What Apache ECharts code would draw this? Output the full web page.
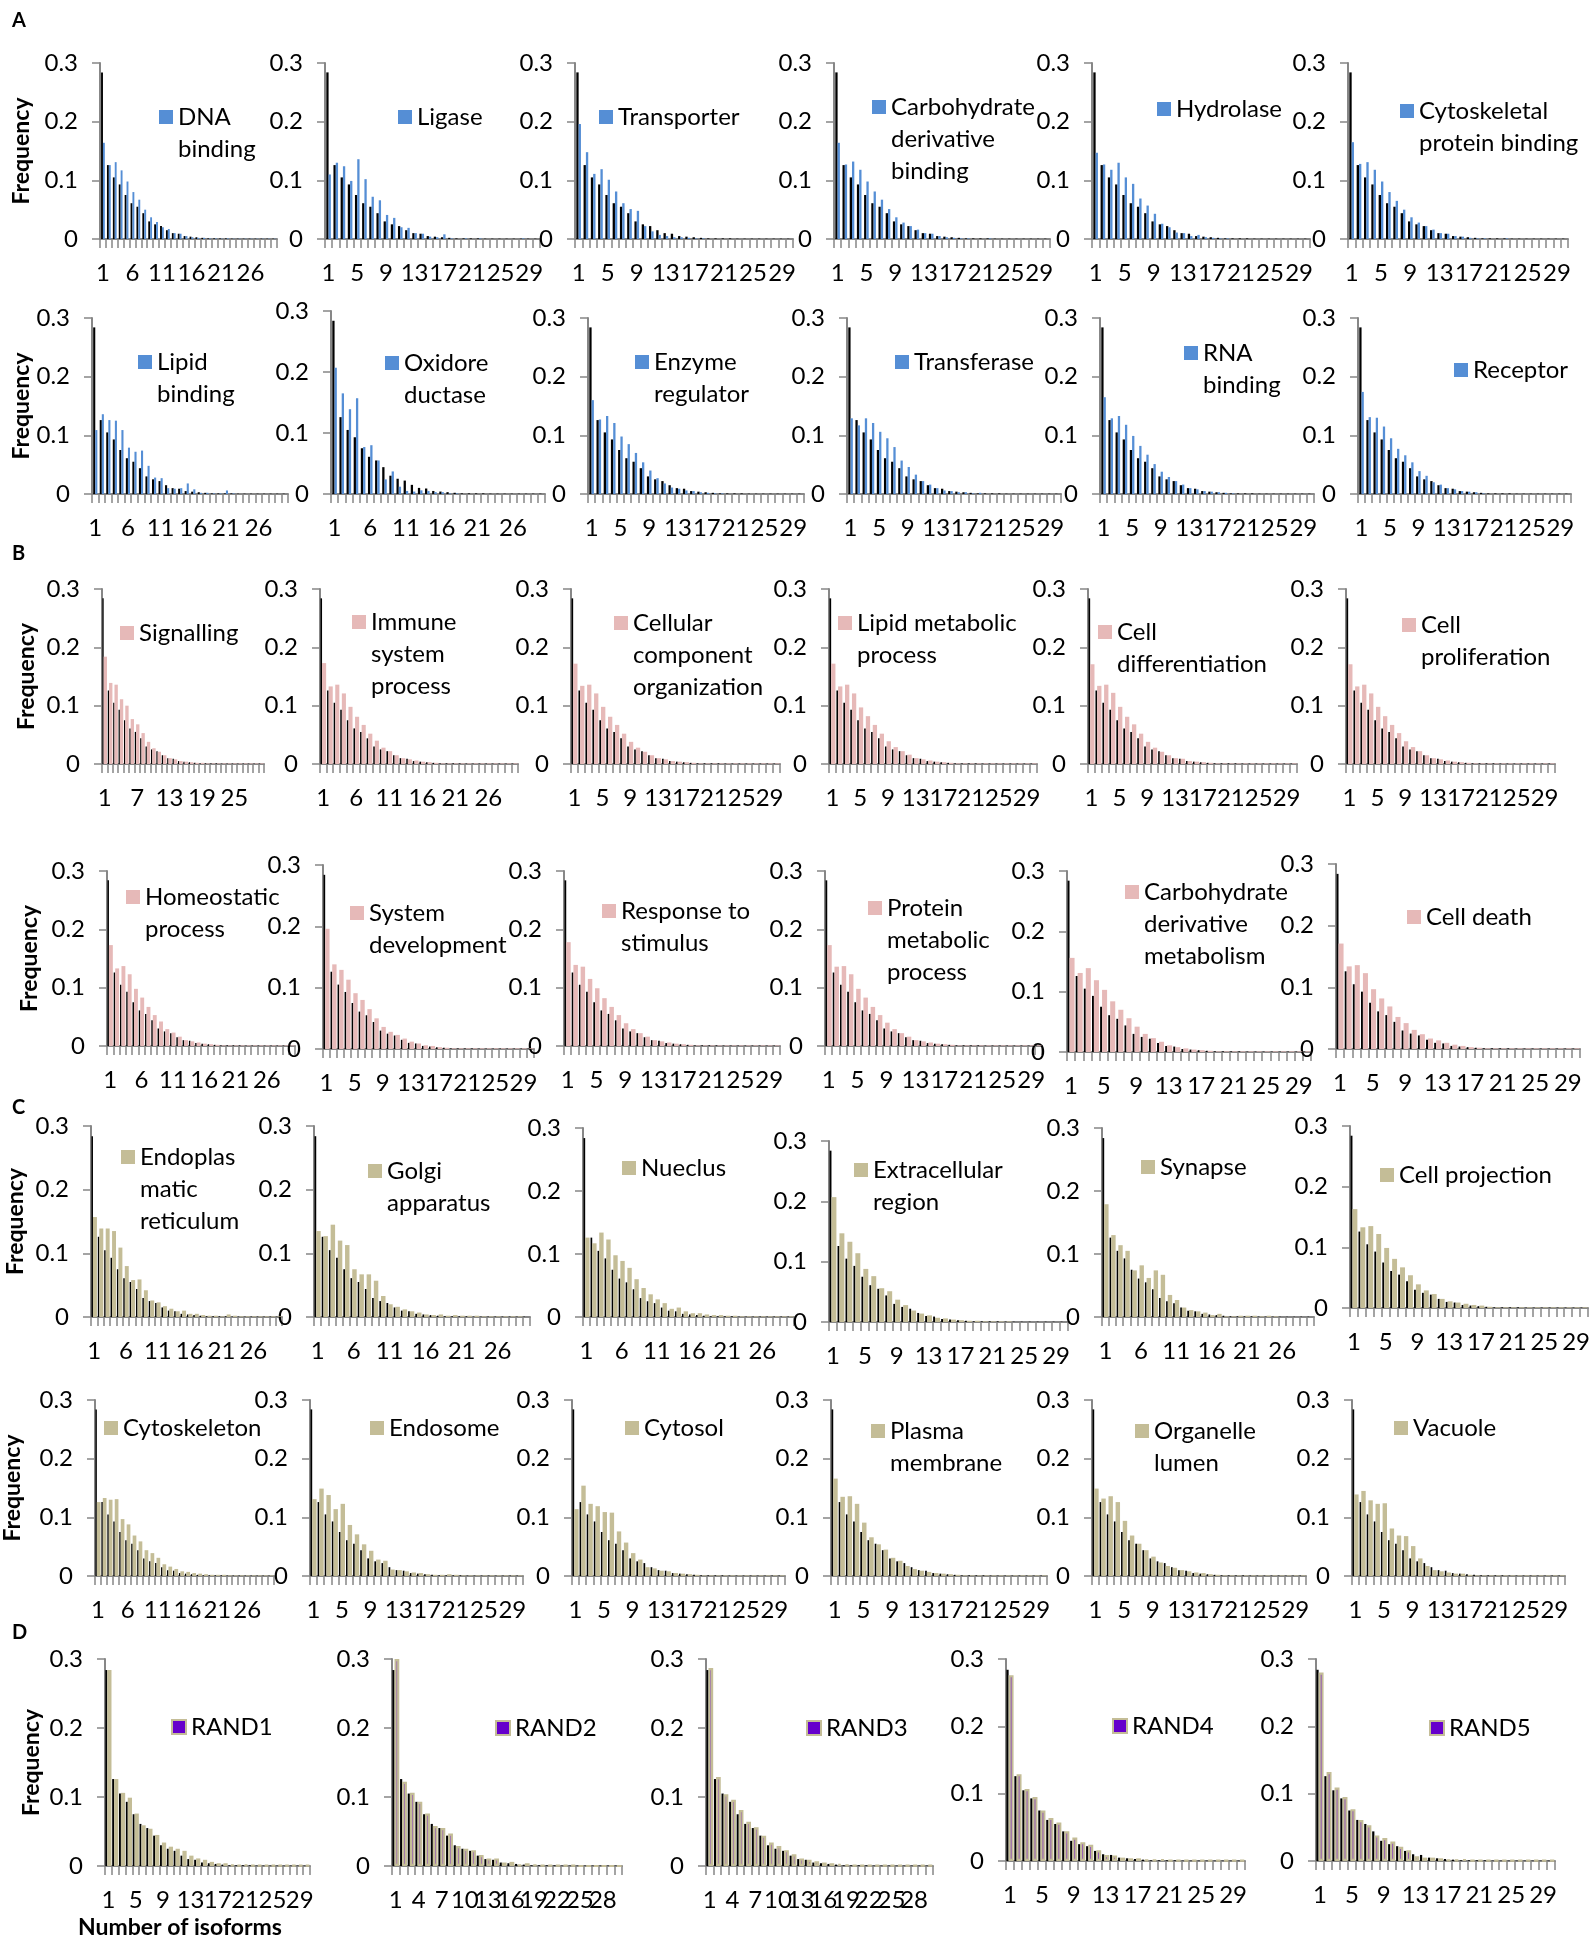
<!DOCTYPE html>
<html>
<head>
<meta charset="utf-8">
<script src="https://cdn.jsdelivr.net/npm/echarts@6/dist/echarts.min.js"></script>
<style>
  html, body { margin: 0; padding: 0; background: #ffffff; }
  #chart { width: 1593px; height: 1945px; }
</style>
</head>
<body>
<div id="chart"></div>
<script>
// Number of isoforms per gene (x categories)
const isoformCounts = ['1','2','3','4','5','6','7','8','9','10','11','12','13','14','15',
  '16','17','18','19','20','21','22','23','24','25','26','27','28','29','30'];

// Frequency over all genes (black reference bars, drawn in every panel)
const allGenes = [0.284,0.126,0.105,0.093,0.075,0.061,0.055,0.044,0.030,0.025,0.022,0.015,0.010,0.009,0.005,0.004,0.003,0.002,0.001,0.001,0.001,0.001,0.0005,0.0005,0.0005,0.0005,0.0005,0.0005,0.0005,0.0005];

// A: molecular function
const dnaBinding = [0.164,0.126,0.131,0.117,0.098,0.080,0.067,0.050,0.037,0.029,0.020,0.017,0.010,0.009,0.005,0.003,0.002,0.002,0.001,0.001,0.0005,0.001,0.0005,0.0005,0.0005,0.0005,0.0005,0.0005,0.0005,0.0005];
const ligase = [0.110,0.130,0.124,0.099,0.136,0.102,0.072,0.066,0.041,0.036,0.020,0.019,0.010,0.009,0.004,0.003,0.008,0.001,0,0.001,0,0.001,0,0,0,0,0,0.001,0,0];
const transporter = [0.196,0.148,0.111,0.119,0.101,0.081,0.061,0.051,0.048,0.022,0.013,0.007,0.005,0.003,0.003,0.002,0.001,0.001,0,0,0,0,0,0,0,0,0,0,0,0];
const carbDerivBinding = [0.164,0.127,0.132,0.118,0.098,0.081,0.067,0.051,0.037,0.028,0.022,0.016,0.010,0.009,0.005,0.003,0.002,0.001,0.001,0,0,0.001,0,0,0,0,0,0,0,0];
const hydrolase = [0.147,0.127,0.118,0.130,0.105,0.094,0.069,0.057,0.043,0.026,0.020,0.011,0.010,0.005,0.007,0.003,0.002,0.001,0.001,0,0,0,0,0,0,0,0,0,0,0];
const cytoskeletalBinding = [0.165,0.128,0.131,0.118,0.098,0.080,0.065,0.050,0.037,0.028,0.022,0.016,0.010,0.009,0.005,0.004,0.002,0.001,0.001,0,0,0.001,0,0,0,0,0,0,0,0];
const lipidBinding = [0.109,0.136,0.126,0.125,0.109,0.079,0.072,0.074,0.048,0.028,0.027,0.010,0.009,0.010,0.018,0.008,0.002,0.002,0.001,0.001,0.006,0.001,0,0,0,0,0,0,0,0];
const oxidoreductase = [0.207,0.165,0.139,0.157,0.077,0.080,0.055,0.024,0.037,0.012,0.005,0.004,0.006,0.005,0.003,0.003,0.001,0.001,0,0,0,0,0,0,0,0,0,0,0,0];
const enzymeRegulator = [0.160,0.127,0.133,0.121,0.098,0.085,0.070,0.054,0.040,0.027,0.018,0.011,0.009,0.006,0.005,0.003,0.002,0.001,0.001,0,0,0,0,0,0,0,0,0,0,0];
const transferase = [0.129,0.117,0.129,0.121,0.106,0.095,0.080,0.057,0.046,0.033,0.022,0.016,0.010,0.006,0.005,0.003,0.003,0.001,0.002,0,0,0,0,0,0,0,0,0,0,0];
const rnaBinding = [0.165,0.129,0.133,0.118,0.099,0.082,0.067,0.051,0.038,0.029,0.022,0.016,0.010,0.008,0.005,0.004,0.003,0.002,0.001,0,0,0,0,0,0,0,0,0,0,0];
const receptor = [0.174,0.131,0.130,0.115,0.095,0.077,0.066,0.054,0.039,0.031,0.020,0.016,0.010,0.008,0.005,0.004,0.003,0.001,0,0,0,0,0,0,0,0,0,0,0,0];

// B: biological process
const signalling = [0.184,0.139,0.136,0.111,0.100,0.077,0.068,0.053,0.038,0.027,0.021,0.015,0.010,0.008,0.005,0.004,0.003,0.002,0.002,0.001,0.001,0.001,0.001,0.001,0.001,0.001,0.001,0.001,0.001,0.001];
const immuneProcess = [0.173,0.133,0.136,0.121,0.098,0.081,0.067,0.052,0.040,0.028,0.022,0.015,0.010,0.008,0.006,0.004,0.003,0.002,0.001,0.001,0.001,0.001,0.001,0.001,0.001,0.001,0.001,0.001,0.001,0.001];
const componentOrganization = [0.172,0.134,0.136,0.121,0.098,0.081,0.067,0.052,0.038,0.028,0.021,0.015,0.010,0.008,0.005,0.004,0.003,0.002,0.001,0.001,0.001,0.001,0.001,0.001,0.001,0.001,0.001,0.001,0.001,0.001];
const lipidMetabolic = [0.172,0.133,0.136,0.121,0.097,0.082,0.067,0.052,0.039,0.029,0.022,0.016,0.010,0.008,0.006,0.004,0.003,0.002,0.001,0.001,0.001,0.001,0.001,0.001,0.001,0.001,0.001,0.001,0.001,0.001];
const cellDifferentiation = [0.171,0.134,0.136,0.122,0.098,0.081,0.068,0.052,0.038,0.028,0.021,0.015,0.010,0.009,0.005,0.004,0.003,0.002,0.001,0.001,0.001,0.001,0.001,0.001,0.001,0.001,0.001,0.001,0.001,0.001];
const cellProliferation = [0.171,0.133,0.136,0.121,0.098,0.082,0.067,0.053,0.039,0.029,0.022,0.015,0.010,0.008,0.006,0.004,0.003,0.002,0.001,0.001,0.001,0.001,0.001,0.001,0.001,0.001,0.001,0.001,0.001,0.001];
const homeostatic = [0.173,0.133,0.137,0.123,0.098,0.083,0.067,0.053,0.042,0.029,0.023,0.016,0.010,0.008,0.006,0.004,0.003,0.002,0.001,0.001,0.001,0.001,0.001,0.001,0.001,0.001,0.001,0.001,0.001,0.001];
const systemDevelopment = [0.196,0.138,0.129,0.113,0.091,0.080,0.065,0.050,0.036,0.028,0.023,0.017,0.012,0.009,0.006,0.005,0.003,0.002,0.001,0.001,0.001,0.001,0.001,0.001,0.001,0.001,0.001,0.001,0.001,0.001];
const responseToStimulus = [0.178,0.139,0.136,0.115,0.099,0.082,0.067,0.053,0.039,0.029,0.022,0.016,0.010,0.008,0.006,0.004,0.003,0.002,0.001,0.001,0.001,0.001,0.001,0.001,0.001,0.001,0.001,0.001,0.001,0.001];
const proteinMetabolic = [0.173,0.136,0.137,0.123,0.098,0.083,0.067,0.053,0.040,0.029,0.022,0.016,0.010,0.008,0.006,0.004,0.003,0.002,0.001,0.001,0.001,0.001,0.001,0.001,0.001,0.001,0.001,0.001,0.001,0.001];
const carbDerivMetabolism = [0.156,0.131,0.139,0.119,0.103,0.084,0.070,0.056,0.042,0.030,0.023,0.017,0.011,0.008,0.006,0.004,0.003,0.002,0.001,0.001,0.001,0.001,0.001,0.001,0.001,0.001,0.001,0.001,0.001,0.001];
const cellDeath = [0.171,0.134,0.136,0.123,0.097,0.082,0.069,0.052,0.042,0.031,0.024,0.017,0.014,0.010,0.007,0.005,0.003,0.002,0.001,0.001,0.001,0.001,0.001,0.001,0.001,0.001,0.001,0.001,0.001,0.001];

// C: cellular component
const endoplasmicReticulum = [0.157,0.139,0.139,0.135,0.109,0.080,0.058,0.059,0.042,0.026,0.023,0.017,0.013,0.009,0.010,0.005,0.005,0.003,0.002,0.002,0.001,0.004,0.002,0.001,0.001,0.001,0.001,0.001,0.001,0.001];
const golgi = [0.135,0.127,0.145,0.120,0.113,0.075,0.067,0.067,0.057,0.033,0.020,0.016,0.012,0.009,0.007,0.004,0.003,0.004,0.002,0.003,0.002,0.002,0.002,0.001,0.001,0.001,0.001,0.001,0.001,0];
const nucleus = [0.126,0.117,0.134,0.123,0.098,0.089,0.078,0.060,0.046,0.036,0.028,0.022,0.013,0.015,0.009,0.006,0.006,0.004,0.003,0.003,0.002,0.002,0.001,0.001,0.001,0.001,0.001,0.001,0.001,0.001];
const extracellular = [0.207,0.147,0.133,0.114,0.088,0.076,0.056,0.051,0.037,0.028,0.019,0.014,0.011,0.007,0.006,0.004,0.003,0.002,0.002,0.001,0.001,0.001,0.001,0,0,0,0,0,0,0];
const synapse = [0.179,0.130,0.114,0.105,0.074,0.082,0.062,0.074,0.067,0.035,0.027,0.015,0.011,0.009,0.007,0.003,0.005,0.001,0.001,0.002,0.002,0.002,0.001,0.002,0.001,0,0,0,0,0];
const cellProjection = [0.163,0.133,0.135,0.122,0.099,0.081,0.067,0.054,0.039,0.029,0.023,0.015,0.011,0.009,0.007,0.005,0.004,0.002,0.001,0.001,0.001,0.001,0.001,0.001,0.001,0.001,0.001,0.001,0.001,0.001];
const cytoskeleton = [0.126,0.133,0.130,0.131,0.097,0.088,0.069,0.059,0.044,0.039,0.031,0.020,0.016,0.012,0.008,0.007,0.005,0.004,0.003,0.002,0.002,0.002,0.001,0.001,0.001,0.001,0.001,0.001,0.001,0.001];
const endosome = [0.131,0.149,0.138,0.114,0.123,0.087,0.071,0.054,0.043,0.028,0.026,0.011,0.010,0.008,0.006,0.005,0.003,0.002,0.002,0.003,0.002,0.001,0.001,0.001,0.001,0.001,0.001,0.001,0.001,0.001];
const cytosol = [0.114,0.154,0.123,0.119,0.109,0.108,0.076,0.057,0.039,0.028,0.015,0.013,0.009,0.008,0.005,0.004,0.003,0.002,0.001,0.001,0.001,0.001,0.001,0.001,0.001,0.001,0.001,0.001,0.001,0.001];
const plasmaMembrane = [0.166,0.135,0.136,0.123,0.091,0.066,0.054,0.045,0.031,0.026,0.017,0.012,0.009,0.007,0.005,0.004,0.003,0.002,0.001,0.001,0.001,0.001,0.001,0.001,0.001,0.001,0.001,0.001,0.001,0.001];
const organelleLumen = [0.149,0.132,0.136,0.126,0.094,0.069,0.055,0.044,0.033,0.023,0.017,0.014,0.010,0.008,0.006,0.005,0.003,0.002,0.001,0.001,0.001,0.001,0.001,0.001,0.001,0.001,0.001,0.001,0.001,0.001];
const vacuole = [0.139,0.145,0.129,0.123,0.124,0.081,0.069,0.068,0.051,0.030,0.017,0.010,0.008,0.006,0.004,0.004,0.002,0.001,0.001,0.001,0.001,0.001,0.001,0.001,0.001,0.001,0.001,0.001,0.001,0.001];

// D: random gene sets
const rand1 = [0.284,0.126,0.106,0.099,0.076,0.059,0.054,0.045,0.034,0.028,0.025,0.022,0.015,0.011,0.009,0.006,0.004,0.004,0.002,0.001,0.002,0.001,0.001,0.001,0.001,0.001,0.001,0.001,0.001,0.001];
const rand2 = [0.300,0.122,0.106,0.093,0.076,0.058,0.055,0.047,0.029,0.025,0.023,0.016,0.011,0.011,0.005,0.006,0.002,0.004,0.002,0.001,0.001,0.001,0.001,0.001,0,0,0,0,0,0];
const rand3 = [0.287,0.129,0.104,0.096,0.081,0.064,0.056,0.044,0.034,0.029,0.023,0.017,0.011,0.009,0.007,0.005,0.004,0.003,0.002,0.001,0.001,0.001,0.001,0.001,0.001,0.001,0.001,0.001,0.001,0.001];
const rand4 = [0.276,0.129,0.107,0.095,0.075,0.064,0.057,0.044,0.035,0.028,0.024,0.016,0.009,0.008,0.005,0.004,0.004,0.002,0.002,0.003,0.001,0.001,0.001,0.001,0.001,0.001,0.001,0.001,0.001,0.001];
const rand5 = [0.280,0.132,0.109,0.095,0.077,0.061,0.053,0.038,0.034,0.029,0.021,0.016,0.007,0.005,0.005,0.004,0.002,0.002,0.003,0.001,0.001,0.001,0.001,0.001,0.001,0.001,0.001,0.001,0.001,0.001];

// Panel layout: plot box [left, top, right, bottom] in px, label step, legend icon [x, centerY]
const panels = [
  { label: 'DNA\nbinding', values: dnaBinding, kind: 'mf', box: [100, 63, 277, 239], step: 5, icon: [159, 117], yName: 67 },
  { label: 'Ligase', values: ligase, kind: 'mf', box: [325, 63, 540, 239], step: 4, icon: [398, 117] },
  { label: 'Transporter', values: transporter, kind: 'mf', box: [575, 63, 793, 239], step: 4, icon: [599, 117] },
  { label: 'Carbohydrate\nderivative\nbinding', values: carbDerivBinding, kind: 'mf', box: [834, 63, 1050, 239], step: 4, icon: [872, 107] },
  { label: 'Hydrolase', values: hydrolase, kind: 'mf', box: [1092, 63, 1310, 239], step: 4, icon: [1157, 109] },
  { label: 'Cytoskeletal\nprotein binding', values: cytoskeletalBinding, kind: 'mf', box: [1348, 63, 1568, 239], step: 4, icon: [1400, 111] },

  { label: 'Lipid\nbinding', values: lipidBinding, kind: 'mf', box: [92, 318, 288, 494], step: 5, icon: [138, 362], yName: 55 },
  { label: 'Oxidore\nductase', values: oxidoreductase, kind: 'mf', box: [331, 311, 545, 494], step: 5, icon: [385, 363] },
  { label: 'Enzyme\nregulator', values: enzymeRegulator, kind: 'mf', box: [588, 318, 804, 494], step: 4, icon: [635, 362] },
  { label: 'Transferase', values: transferase, kind: 'mf', box: [847, 318, 1061, 494], step: 4, icon: [895, 362] },
  { label: 'RNA\nbinding', values: rnaBinding, kind: 'mf', box: [1100, 318, 1314, 494], step: 4, icon: [1184, 353] },
  { label: 'Receptor', values: receptor, kind: 'mf', box: [1358, 318, 1571, 494], step: 4, icon: [1454, 370] },

  { label: 'Signalling', values: signalling, kind: 'bp', box: [102, 589, 264, 764], step: 6, icon: [120, 633], yName: 64 },
  { label: 'Immune\nsystem\nprocess', values: immuneProcess, kind: 'bp', box: [320, 589, 518, 764], step: 5, icon: [352, 622] },
  { label: 'Cellular\ncomponent\norganization', values: componentOrganization, kind: 'bp', box: [571, 589, 780, 764], step: 4, icon: [614, 623] },
  { label: 'Lipid metabolic\nprocess', values: lipidMetabolic, kind: 'bp', box: [829, 589, 1037, 764], step: 4, icon: [838, 623] },
  { label: 'Cell\ndifferentiation', values: cellDifferentiation, kind: 'bp', box: [1088, 589, 1297, 764], step: 4, icon: [1098, 632] },
  { label: 'Cell\nproliferation', values: cellProliferation, kind: 'bp', box: [1346, 589, 1555, 764], step: 4, icon: [1402, 625] },

  { label: 'Homeostatic\nprocess', values: homeostatic, kind: 'bp', box: [107, 871, 295, 1046], step: 5, icon: [126, 897], yName: 66 },
  { label: 'System\ndevelopment', values: systemDevelopment, kind: 'bp', box: [323, 865, 534, 1049], step: 4, icon: [350, 913] },
  { label: 'Response to\nstimulus', values: responseToStimulus, kind: 'bp', box: [564, 871, 780, 1046], step: 4, icon: [602, 911] },
  { label: 'Protein\nmetabolic\nprocess', values: proteinMetabolic, kind: 'bp', box: [825, 871, 1042, 1046], step: 4, icon: [868, 908] },
  { label: 'Carbohydrate\nderivative\nmetabolism', values: carbDerivMetabolism, kind: 'bp', box: [1067, 871, 1311, 1052], step: 4, icon: [1125, 892] },
  { label: 'Cell death', values: cellDeath, kind: 'bp', box: [1336, 864, 1580, 1049], step: 4, icon: [1407, 917] },

  { label: 'Endoplas\nmatic\nreticulum', values: endoplasmicReticulum, kind: 'cc', box: [91, 1126, 282, 1317], step: 5, icon: [121, 1157], yName: 64 },
  { label: 'Golgi\napparatus', values: golgi, kind: 'cc', box: [314, 1126, 530, 1317], step: 5, icon: [368, 1171] },
  { label: 'Nueclus', values: nucleus, kind: 'cc', box: [583, 1128, 794, 1317], step: 5, icon: [622, 1168] },
  { label: 'Extracellular\nregion', values: extracellular, kind: 'cc', box: [829, 1141, 1068, 1322], step: 4, icon: [854, 1170] },
  { label: 'Synapse', values: synapse, kind: 'cc', box: [1102, 1128, 1314, 1317], step: 5, icon: [1141, 1167] },
  { label: 'Cell projection', values: cellProjection, kind: 'cc', box: [1350, 1126, 1589, 1308], step: 4, icon: [1380, 1175] },

  { label: 'Cytoskeleton', values: cytoskeleton, kind: 'cc', box: [91, 1400, 274, 1576], step: 5, icon: [104, 1428], yName: 71 },
  { label: 'Endosome', values: endosome, kind: 'cc', box: [310, 1400, 523, 1576], step: 4, icon: [370, 1428] },
  { label: 'Cytosol', values: cytosol, kind: 'cc', box: [572, 1400, 785, 1576], step: 4, icon: [625, 1428] },
  { label: 'Plasma\nmembrane', values: plasmaMembrane, kind: 'cc', box: [831, 1400, 1047, 1576], step: 4, icon: [871, 1431] },
  { label: 'Organelle\nlumen', values: organelleLumen, kind: 'cc', box: [1092, 1400, 1306, 1576], step: 4, icon: [1135, 1431] },
  { label: 'Vacuole', values: vacuole, kind: 'cc', box: [1352, 1400, 1565, 1576], step: 4, icon: [1394, 1428] },

  { label: 'RAND1', values: rand1, kind: 'rand', box: [105, 1659, 310, 1866], step: 4, icon: [171, 1727], yName: 62 },
  { label: 'RAND2', values: rand2, kind: 'rand', box: [392, 1659, 622, 1866], step: 3, icon: [495, 1728] },
  { label: 'RAND3', values: rand3, kind: 'rand', box: [706, 1659, 933, 1866], step: 3, icon: [806, 1728] },
  { label: 'RAND4', values: rand4, kind: 'rand', box: [1006, 1659, 1245, 1861], step: 4, icon: [1112, 1726] },
  { label: 'RAND5', values: rand5, kind: 'rand', box: [1316, 1659, 1555, 1861], step: 4, icon: [1429, 1728] }
];

// Bar styling per annotation group
const styles = {
  mf:   { color: '#558ED5', border: null,      refWidth: '32%', width: '32%' },
  bp:   { color: '#E6B9B8', border: null,      refWidth: '24%', width: '62%' },
  cc:   { color: '#C4BD97', border: null,      refWidth: '24%', width: '62%' },
  rand: { color: '#6600CC', border: '#C4BD97', refWidth: '28%', width: '62%' }
};

const FONT = 'Lato';
const AXIS_GREY = '#878787';
const LINE_H = 32;
const TEXT_SIZE = 24;
const LAST = isoformCounts.length - 1;

const grid = [], xAxis = [], yAxis = [], series = [], legend = [];

panels.forEach((p, i) => {
  const [l, t, r, b] = p.box;
  const st = styles[p.kind];
  grid.push({ left: l, top: t, width: r - l, height: b - t, containLabel: false });

  // every step-th count is labelled; the final slot carries an empty label so the
  // automatic end-label overlap check never drops the last printed number
  xAxis.push({
    type: 'category', gridIndex: i, data: isoformCounts,
    axisLine: { show: true, lineStyle: { color: AXIS_GREY, width: 2 } },
    axisTick: { show: true, interval: 0, length: 9, lineStyle: { color: AXIS_GREY, width: 1.5 } },
    axisLabel: {
      interval: idx => idx % p.step === 0 || idx === LAST,
      formatter: (val, idx) => (idx % p.step === 0 ? val : ''),
      fontFamily: FONT, fontSize: TEXT_SIZE, lineHeight: 24, color: '#000', margin: 22
    },
    splitLine: { show: false }
  });

  const y = {
    type: 'value', gridIndex: i, min: 0, max: 0.3, interval: 0.1,
    axisLine: { show: true, lineStyle: { color: AXIS_GREY, width: 2 } },
    axisTick: { show: true, length: 8, lineStyle: { color: AXIS_GREY, width: 1.5 } },
    axisLabel: { fontFamily: FONT, fontSize: TEXT_SIZE, color: '#000', margin: 22 },
    splitLine: { show: false }
  };
  if (p.yName) {
    Object.assign(y, {
      name: 'Frequency', nameLocation: 'middle', nameGap: p.yName,
      nameTextStyle: { fontFamily: FONT, fontSize: 23, fontWeight: 'bold', color: '#000' }
    });
  }
  yAxis.push(y);

  series.push({
    type: 'bar', name: 'all genes ' + i, xAxisIndex: i, yAxisIndex: i,
    data: allGenes, barWidth: st.refWidth, barGap: '0%', barCategoryGap: '20%',
    itemStyle: { color: '#000000' }, silent: true, animation: false
  });
  const item = { color: st.color };
  if (st.border) { item.borderColor = st.border; item.borderWidth = 2.2; }
  series.push({
    type: 'bar', name: p.label, xAxisIndex: i, yAxisIndex: i,
    data: p.values, barWidth: st.width, barGap: '0%',
    itemStyle: item, silent: true, animation: false
  });

  // the square sits beside the first line; blank lines above keep the text block centred on it
  const lines = p.label.split('\n').length;
  legend.push({
    data: [p.label], left: p.icon[0], top: p.icon[1] - (2 * lines - 1) * LINE_H / 2,
    padding: 0, itemWidth: 14, itemHeight: 14, selectedMode: false, icon: 'rect',
    formatter: name => '\n'.repeat(lines - 1) + name,
    textStyle: { fontFamily: FONT, fontSize: TEXT_SIZE, color: '#000', lineHeight: LINE_H }
  });
});

const letterStyle = { fontFamily: FONT, fontSize: 20, fontWeight: 'bold', color: '#000' };
const title = [
  { text: 'A', left: 12, top: 11, padding: 0, textStyle: letterStyle },
  { text: 'B', left: 12, top: 544, padding: 0, textStyle: letterStyle },
  { text: 'C', left: 12, top: 1098, padding: 0, textStyle: letterStyle },
  { text: 'D', left: 12, top: 1623, padding: 0, textStyle: letterStyle },
  { text: 'Number of isoforms', left: 78, top: 1916, padding: 0,
    textStyle: { fontFamily: FONT, fontSize: 23, fontWeight: 'bold', color: '#000' } }
];

const chart = echarts.init(document.getElementById('chart'), null, { renderer: 'canvas' });
chart.setOption({
  backgroundColor: '#ffffff',
  animation: false,
  title, grid, xAxis, yAxis, series, legend
});
</script>
</body>
</html>
